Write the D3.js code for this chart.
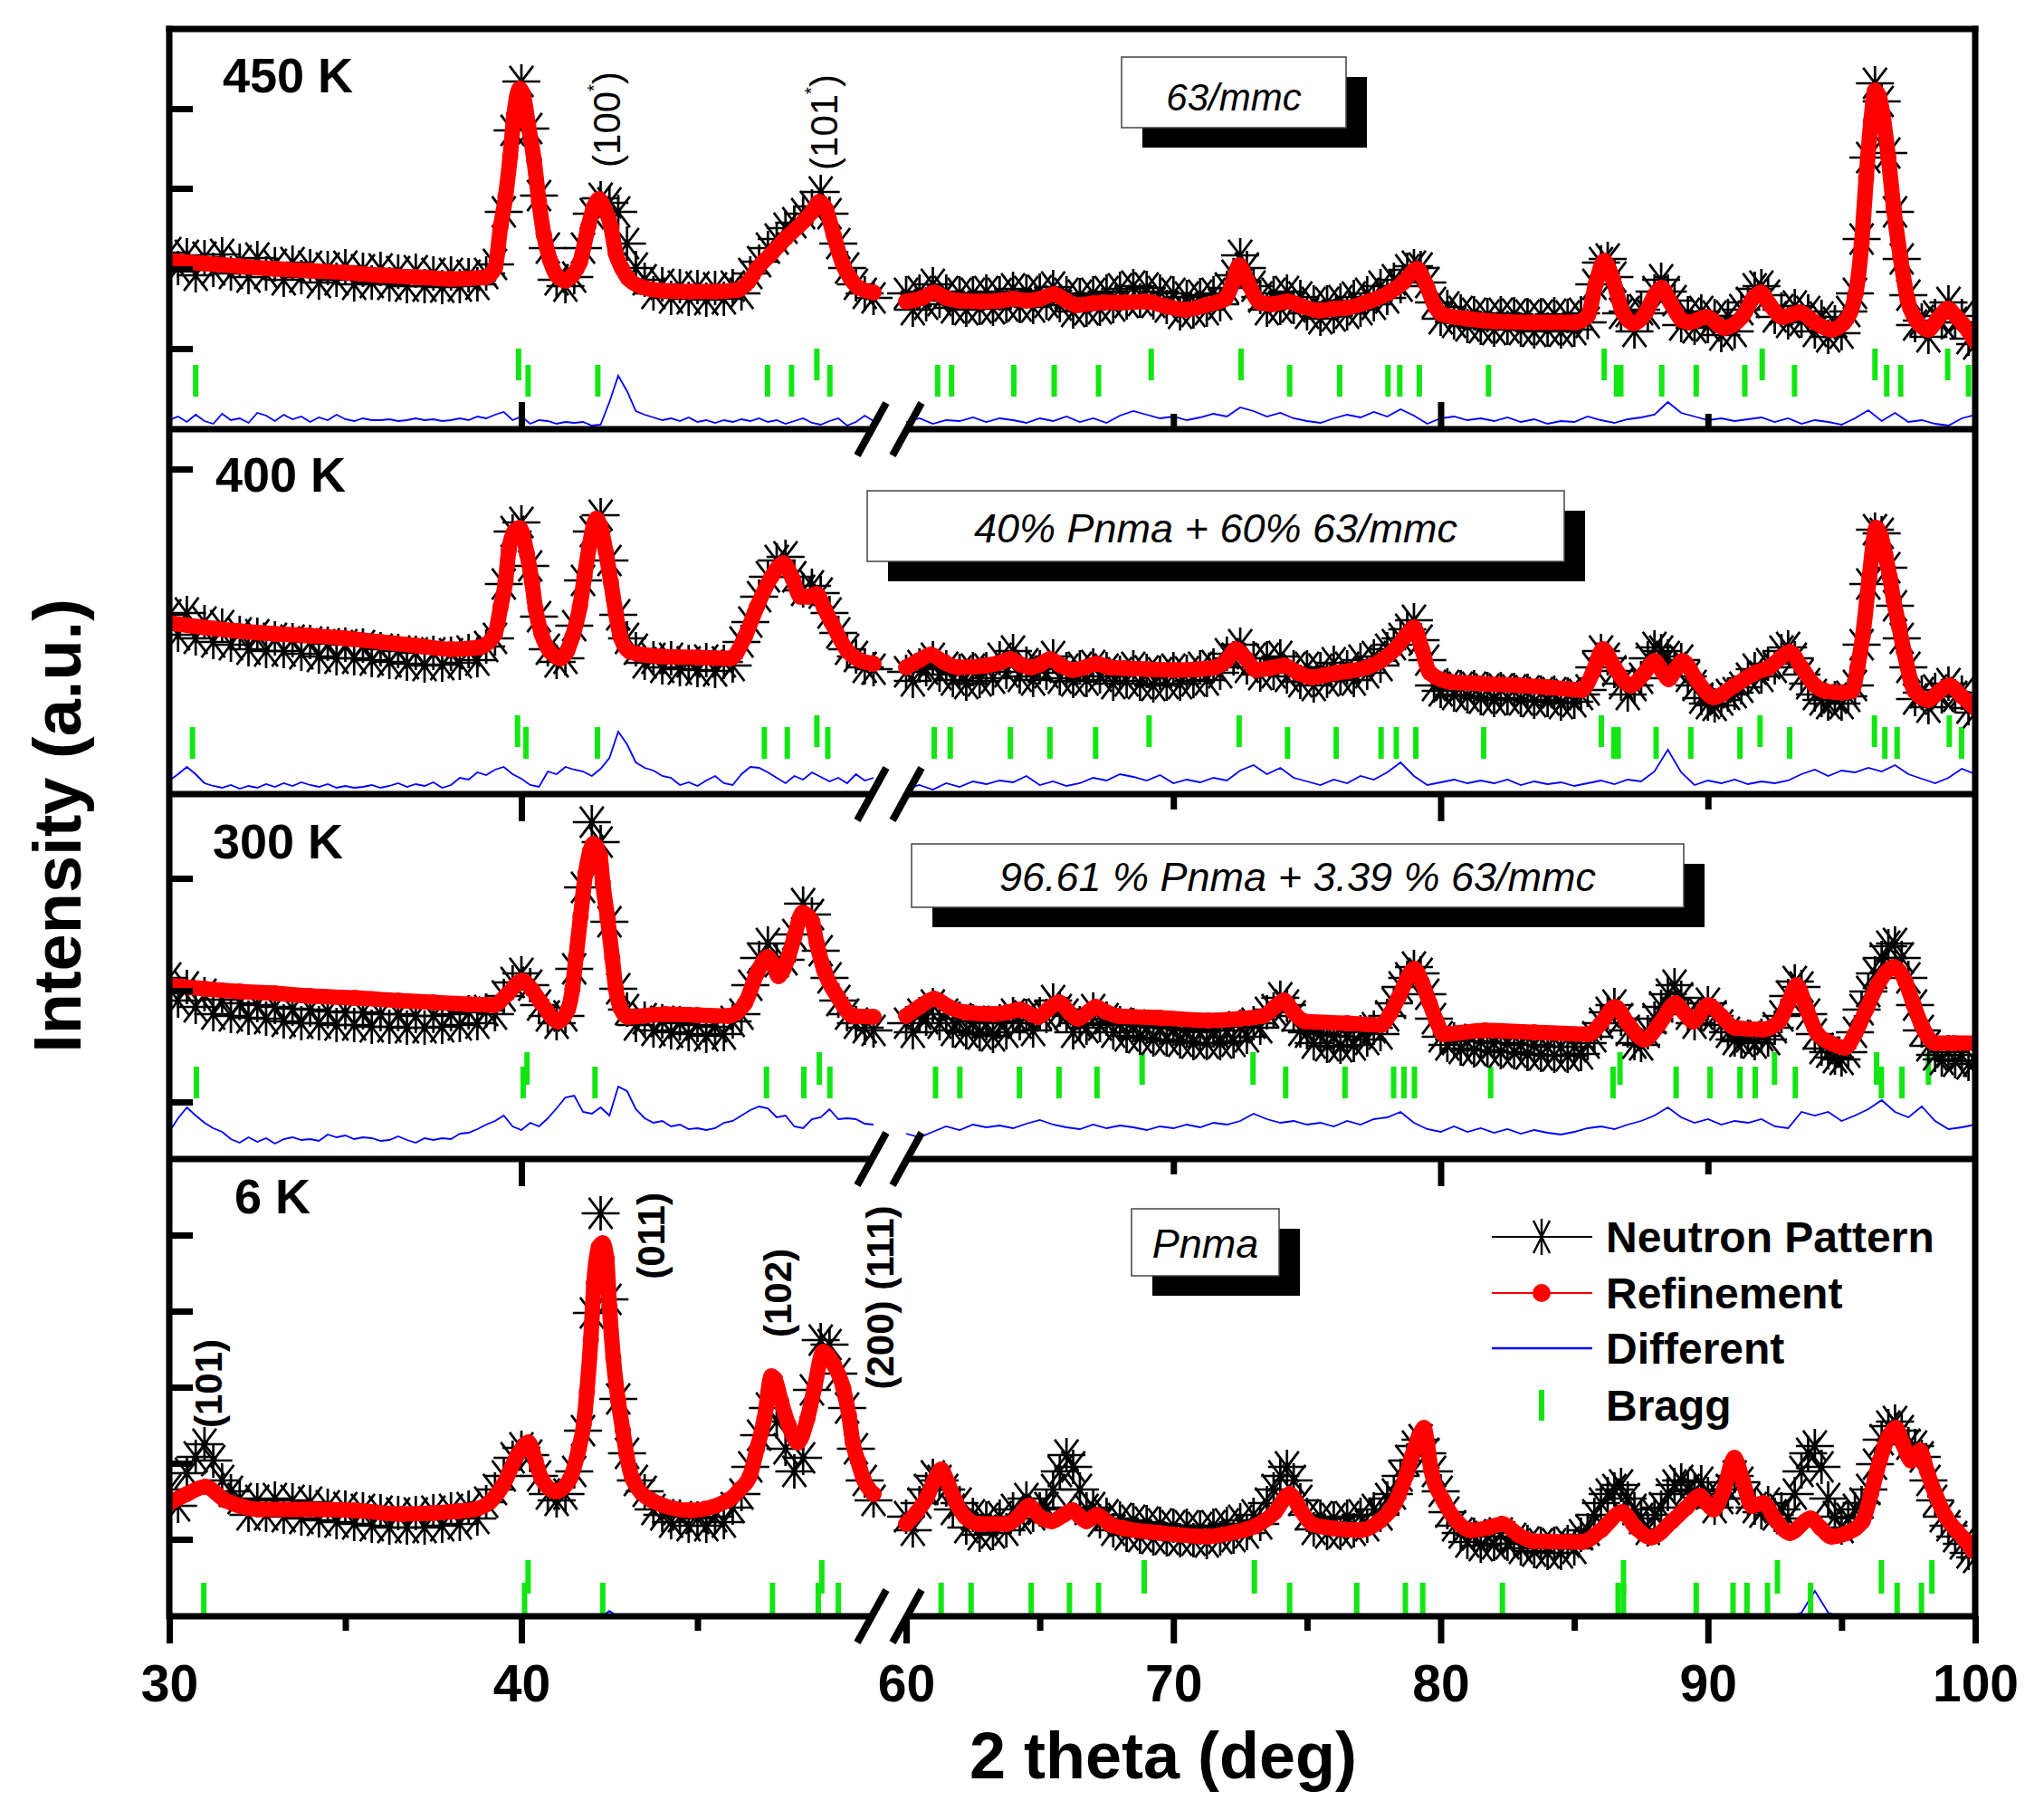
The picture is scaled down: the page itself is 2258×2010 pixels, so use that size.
<!DOCTYPE html>
<html><head><meta charset="utf-8">
<script src="https://cdn.jsdelivr.net/npm/d3@7"></script>
<style>body{margin:0;background:#fff}svg{display:block}</style>
</head><body><div id="chart"></div>
<script>
// ---------------- DATA ----------------
const panelNames = ["450 K", "400 K", "300 K", "6 K"];
const phaseLabels = ["63/mmc", "40% Pnma + 60% 63/mmc", "96.61 % Pnma + 3.39 % 63/mmc", "Pnma"];
const legendNames = ["Neutron Pattern", "Refinement", "Different", "Bragg"];
const xTickLabelsLeft = [30, 40];
const xTickLabelsRight = [60, 70, 80, 90, 100];
const xMinorLeft = [35, 45];
const xMinorRight = [65, 75, 85, 95];
const gridStartLeft = 30, gridStartRight = 60, obsStep = 0.25, diffStepLeft = 0.25, diffStepRight = 0.5;
const peakLabels450 = ["(100*)", "(101*)"];
const peakLabels6 = ["(101)", "(011)", "(102)", "(200) (111)"];

// y tick values (a.u.) for each panel
const yTicks450 = [89, 177, 266, 354];
const yTicks400 = [359];
const yTicks300 = [63, 186, 310];
const yTicks6 = [85, 169, 253, 337, 421];

// ---- 450 K ----
const calc450L = [[30,186],[31,183],[32,180],[33,177],[34,175],[35,173],[36,170],[37,168],[38,166],[39,168],[39.25,178],[39.41,224],[39.55,257],[39.68,301],[39.79,347],[39.95,376],[40.05,370],[40.19,337],[40.36,297],[40.5,251],[40.64,214],[40.81,187],[41.0,170],[41.25,164],[41.45,170],[41.66,184],[41.9,224],[42.05,245],[42.2,254],[42.37,243],[42.54,224],[42.68,194],[42.85,178],[43.02,167],[43.43,157],[44.0,153],[44.79,152],[45.5,152],[46.15,154],[46.45,163],[46.69,177],[47.1,194],[47.51,211],[48.05,231],[48.25,240],[48.46,251],[48.65,243],[48.87,214],[49.14,181],[49.35,166],[49.55,157],[50.0,151]];
const calc450R = [[60.0,141],[60.6,145],[61.05,151],[61.5,145],[61.96,142],[62.8,141],[63.52,142],[64.0,144],[64.5,142],[65.0,144],[65.54,149],[66.0,142],[66.37,137],[67.0,139],[67.4,140],[68.2,140],[68.96,141],[69.7,136],[70.46,132],[71.2,137],[71.94,144],[72.2,160],[72.46,181],[72.75,165],[73.23,140],[73.7,138],[74.27,141],[74.8,136],[75.44,131],[76.0,133],[76.48,134],[77.3,141],[78.03,150],[78.6,162],[79.12,177],[79.45,160],[79.8,135],[80.05,127],[81,122],[82.05,119],[83.5,118],[85.03,118],[85.5,125],[85.8,160],[86.12,186],[86.45,165],[86.8,130],[87.23,117],[87.7,130],[88.0,148],[88.27,156],[88.6,140],[89.0,121],[89.3,118],[89.95,124],[90.6,112],[91.3,125],[91.7,145],[91.98,151],[92.3,138],[92.8,124],[93.45,129],[94.0,118],[94.62,110],[95.1,118],[95.53,150],[95.75,205],[95.92,277],[96.1,340],[96.25,374],[96.4,368],[96.56,344],[96.75,300],[96.95,244],[97.2,190],[97.47,143],[97.8,120],[98.25,110],[98.6,122],[98.97,133],[99.3,124],[99.54,116],[100.0,97]];
const obs450L = [195,178,192,170,190,176,193,172,186,168,189,172,182,165,184,168,180,162,178,165,180,160,176,162,177,160,174,158,175,158,172,157,172,158,170,160,172,182,240,330,384,332,258,200,165,158,168,200,238,255,250,240,205,178,165,150,160,145,158,144,157,143,156,144,158,150,172,185,200,210,222,228,238,246,262,238,205,178,160,150,145];
const obs450R = [150,132,152,138,160,142,152,134,150,132,150,134,152,133,150,136,155,136,152,135,153,140,157,137,150,130,148,132,150,133,152,136,155,140,158,142,156,140,152,135,150,128,146,130,148,132,150,138,156,170,192,178,158,146,132,150,134,152,135,146,128,140,122,140,125,142,128,146,132,150,138,158,145,165,158,176,180,178,162,140,122,135,118,130,114,128,112,126,110,128,112,127,110,126,108,126,110,127,108,125,110,128,118,160,184,188,168,128,130,108,132,128,152,165,152,142,115,128,112,130,114,125,104,125,108,132,140,155,158,148,124,132,118,136,120,130,108,124,102,118,106,130,150,210,300,382,362,305,240,188,148,115,120,102,125,118,140,118,125,100,94];
const diff450L = [10,14,8,16,9,6,17,10,12,7,18,15,9,16,11,14,8,13,10,16,11,9,12,10,10,11,9,10,12,10,11,9,10,12,10,14,12,16,19,10,14,6,10,9,6,8,7,8,4,5,30,59,42,20,16,13,10,12,9,13,8,10,7,10,8,11,9,12,8,10,6,9,12,7,5,9,12,4,8,15,9];
const diff450R = [8,12,6,10,9,13,8,12,10,7,12,9,14,8,12,7,15,20,16,12,14,10,13,17,14,24,20,14,18,12,9,7,12,16,13,19,14,22,15,6,12,14,10,12,9,13,8,11,6,9,8,14,10,7,11,13,16,30,18,14,10,12,9,11,13,8,12,6,10,8,5,12,21,9,18,8,10,6,4,12,16];
const braggUp450L = [39.92, 48.39];
const braggUp450R = [69.17, 72.53, 86.12, 92.03, 96.25, 98.97];
const braggLo450L = [30.75, 40.19, 42.17, 46.99, 47.67, 48.76];
const braggLo450R = [61.18, 61.7, 64.03, 65.54, 67.2, 74.35, 76.22, 78.03, 78.47, 79.2, 81.79, 86.58, 86.74, 88.27, 89.56, 91.38, 93.24, 96.69, 97.21, 99.75];

// ---- 400 K ----
const calc400L = [[30.0,189],[31,184],[32,180],[33,177],[34,175],[35,172],[36,168],[37,164],[38,160],[38.8,162],[39.25,177],[39.41,207],[39.55,235],[39.64,269],[39.8,290],[39.95,294],[40.16,265],[40.3,234],[40.4,205],[40.57,177],[40.8,158],[41.11,150],[41.3,158],[41.45,174],[41.66,207],[41.79,240],[41.93,274],[42.13,304],[42.25,295],[42.4,267],[42.54,234],[42.68,200],[42.81,174],[43.09,157],[43.97,152],[45.0,151],[45.94,150],[46.35,174],[46.69,207],[47.1,240],[47.44,255],[47.7,238],[47.92,218],[48.15,218],[48.39,221],[48.6,205],[48.8,190],[49.28,157],[49.6,148],[50.0,144]];
const calc400R = [[60.0,140],[60.5,148],[60.92,154],[61.4,146],[61.96,140],[63.0,142],[63.5,145],[63.9,149],[64.3,143],[64.68,140],[65.0,143],[65.38,149],[65.8,142],[66.24,137],[66.7,140],[67.14,144],[67.6,140],[68.18,139],[69.0,138],[70.0,137],[71.0,138],[71.55,140],[72.0,148],[72.33,160],[72.7,150],[73.1,137],[73.6,139],[74.14,142],[74.6,135],[75.18,129],[75.6,131],[76.09,134],[76.6,136],[77.25,140],[77.8,148],[78.29,160],[78.7,175],[79.0,184],[79.3,160],[79.59,134],[80.36,124],[81.5,122],[82.96,120],[84.0,118],[85.29,115],[85.7,135],[86.07,160],[86.5,140],[87.1,120],[87.6,133],[88.01,147],[88.3,135],[88.53,127],[88.8,138],[89.05,147],[89.6,125],[90.21,107],[91.0,120],[91.77,134],[92.3,140],[92.7,150],[93.06,157],[93.5,140],[94.0,120],[94.36,114],[95.0,112],[95.4,114],[95.6,140],[95.79,174],[96.04,240],[96.3,294],[96.47,285],[96.64,264],[96.8,240],[96.95,214],[97.15,185],[97.34,157],[97.73,114],[98.25,104],[98.6,112],[99.03,120],[99.5,108],[100.0,95]];
const obs400L = [198,176,200,172,190,168,186,165,178,160,176,158,172,158,170,155,168,152,166,150,165,150,164,148,160,146,158,144,156,142,156,143,155,145,158,148,163,172,232,290,300,252,196,160,146,150,186,236,290,308,258,198,172,160,145,150,140,150,138,146,137,148,136,146,142,168,190,218,240,258,262,240,225,230,222,200,178,160,152,140,138];
const obs400R = [135,125,142,138,150,132,140,126,136,122,138,125,138,128,150,135,158,130,144,126,140,134,152,128,138,125,140,126,142,130,138,122,134,125,140,122,136,120,134,122,138,122,135,125,140,126,142,134,155,150,165,140,150,132,150,134,152,130,140,124,140,120,138,125,145,128,140,126,148,134,152,142,160,165,172,182,192,170,148,120,114,120,110,118,108,118,106,116,104,116,106,115,104,114,102,112,104,112,100,110,102,110,115,140,158,150,136,122,110,120,128,150,162,158,152,140,148,130,120,106,100,98,104,110,112,118,128,138,130,144,140,158,162,150,132,122,110,104,100,106,100,108,120,165,232,292,288,250,208,172,140,105,112,96,115,108,122,108,112,95,90];
const diff400L = [15,22,30,22,12,9,7,10,6,9,7,11,8,12,9,13,10,8,11,7,9,7,8,10,7,9,12,8,11,9,13,7,10,18,16,24,21,27,30,22,17,10,8,25,22,30,27,25,20,28,40,69,55,35,29,26,20,18,10,13,9,15,20,12,10,22,30,29,24,18,12,20,16,24,19,14,18,12,22,15,18];
const diff400R = [6,10,5,12,8,14,11,15,13,20,10,14,9,12,18,15,22,19,15,21,12,16,13,18,15,26,32,22,29,18,14,10,16,12,20,16,24,35,20,10,13,16,12,15,12,16,10,14,11,13,9,12,15,11,16,14,25,49,24,10,15,12,16,11,14,12,15,22,27,20,26,24,29,25,32,22,17,12,18,28,22];
const braggUp400L = [39.89, 48.39];
const braggUp400R = [69.09, 72.46, 86.01, 91.95, 96.23, 99.03];
const braggLo400L = [30.66, 40.13, 42.16, 46.9, 47.55, 48.7];
const braggLo400R = [61.05, 61.65, 63.9, 65.38, 67.09, 74.27, 76.09, 77.77, 78.34, 79.07, 81.61, 86.48, 86.64, 88.06, 89.36, 91.2, 93.06, 96.62, 97.08, 99.49];

// ---- 300 K ----
const calc300L = [[30.0,192],[31,188],[32,185],[33,183],[34,180],[35.26,178],[36.5,175],[37.5,173],[38.5,171],[39.21,170],[39.6,182],[40.02,197],[40.3,187],[40.57,172],[41.04,152],[41.32,165],[41.45,188],[41.55,223],[41.68,268],[41.82,315],[41.95,340],[42.04,348],[42.23,335],[42.31,305],[42.45,265],[42.58,222],[42.68,188],[42.81,167],[43.02,157],[44.11,160],[45.0,159],[45.87,158],[46.35,172],[46.69,205],[46.99,223],[47.15,215],[47.3,202],[47.45,210],[47.58,223],[47.75,245],[47.98,272],[48.15,268],[48.26,262],[48.39,238],[48.6,208],[49.0,178],[49.41,158],[50.0,157]];
const calc300R = [[60.0,158],[60.5,168],[61.05,177],[61.6,168],[62.22,162],[63.26,160],[63.8,162],[64.24,165],[64.94,157],[65.3,165],[65.72,173],[66.1,162],[66.42,155],[66.8,162],[67.09,168],[67.5,162],[67.92,158],[69.5,156],[71.29,153],[72.5,155],[73.36,158],[73.8,168],[74.14,175],[74.5,162],[74.92,152],[76.5,150],[77.77,148],[78.1,160],[78.42,178],[79.02,210],[79.3,195],[79.59,172],[79.85,152],[80.1,138],[81.66,142],[83.5,140],[85.55,138],[86.0,150],[86.53,168],[87.0,150],[87.62,132],[88.2,150],[88.79,172],[89.1,162],[89.44,152],[90.01,170],[90.5,158],[91.0,145],[92.03,143],[92.67,152],[93.0,172],[93.32,192],[93.7,165],[94.1,138],[94.6,128],[95.14,123],[95.5,138],[95.92,165],[96.4,195],[96.95,212],[97.4,195],[97.7,170],[97.99,148],[98.51,128],[99.2,128],[100.0,128]];
const obs300L = [200,175,190,168,182,160,176,158,172,156,170,155,168,152,166,150,165,150,163,148,162,148,162,146,160,146,160,145,158,145,158,146,160,148,162,150,164,160,180,195,205,192,170,158,150,158,210,300,372,350,262,188,165,148,155,142,152,140,150,138,148,136,146,138,152,160,192,222,238,218,220,248,282,270,230,200,175,160,150,145,142];
const obs300R = [150,140,160,155,170,150,160,142,155,140,152,138,150,136,152,140,160,150,158,142,160,158,175,165,160,140,150,145,165,148,155,140,150,136,148,134,146,132,145,132,144,130,142,128,140,128,142,128,142,130,146,135,150,145,162,165,178,170,158,142,140,128,138,125,136,124,135,126,140,132,145,138,158,172,190,200,212,205,182,155,135,126,132,122,130,120,130,120,128,118,128,118,126,116,126,115,124,114,124,114,124,116,128,135,150,162,170,155,142,128,126,140,155,168,182,192,178,160,150,160,172,158,148,140,132,130,135,128,136,132,145,158,180,196,190,160,138,122,118,112,110,118,140,165,185,205,222,235,238,222,200,170,142,125,115,110,118,108,115,105,108];
const diff300L = [30,45,57,48,40,34,30,22,18,24,19,23,17,22,24,21,22,20,27,24,26,22,24,23,20,21,25,21,18,23,21,23,22,28,29,33,38,42,48,36,32,40,36,45,56,68,70,52,50,57,48,80,75,55,45,40,42,36,38,33,34,32,34,40,42,48,54,58,56,46,48,36,34,44,46,55,44,45,44,39,38];
const diff300R = [28,24,30,36,32,38,35,37,34,39,43,38,35,33,38,34,37,35,32,36,34,38,35,40,38,42,50,44,40,42,38,40,36,42,38,44,46,52,40,33,30,36,30,34,29,33,28,32,29,27,30,34,36,33,38,42,48,57,46,40,44,38,42,40,44,36,34,52,48,52,42,48,55,65,52,46,58,42,33,35,38];
const braggUp300L = [40.16, 48.46];
const braggUp300R = [68.83, 72.98, 86.71, 92.49, 96.31, 98.25];
const braggLo300L = [30.77, 40.05, 42.09, 46.96, 48.02, 48.76];
const braggLo300R = [61.1, 62.01, 64.24, 65.72, 67.14, 74.2, 76.42, 78.24, 78.63, 79.02, 81.87, 86.45, 88.81, 90.08, 91.2, 91.77, 93.27, 96.49, 97.26];

// ---- 6 K ----
const calc6L = [[30.0,125],[30.5,135],[31.02,143],[31.59,128],[32.0,122],[32.54,118],[34.0,118],[35.26,117],[36.62,113],[37.5,114],[38.2,116],[38.66,118],[39.1,126],[39.48,145],[39.89,178],[40.2,192],[40.4,172],[40.57,152],[40.98,138],[41.38,152],[41.63,185],[41.77,212],[41.86,248],[41.97,305],[42.06,368],[42.2,408],[42.31,412],[42.42,395],[42.5,342],[42.61,285],[42.75,238],[42.88,205],[42.99,178],[43.15,152],[43.7,128],[44.79,117],[45.87,128],[46.2,140],[46.49,155],[46.69,185],[46.9,218],[47.1,265],[47.2,262],[47.37,238],[47.58,212],[47.85,192],[48.12,218],[48.32,252],[48.57,292],[48.87,278],[49.14,252],[49.3,222],[49.41,192],[49.55,172],[49.71,152],[50.0,135]];
const calc6R = [[60.0,102],[60.4,115],[60.79,132],[61.05,150],[61.31,162],[61.55,148],[61.83,128],[62.2,110],[62.74,102],[63.77,102],[64.2,110],[64.6,122],[65.0,110],[65.46,105],[65.9,112],[66.24,117],[66.5,110],[66.75,105],[67.14,112],[67.6,102],[68.18,97],[69.5,92],[71.29,88],[72.3,93],[73.1,100],[73.8,115],[74.35,135],[74.75,118],[75.18,102],[76.0,97],[76.99,95],[77.7,105],[78.29,125],[78.7,155],[78.94,178],[79.2,200],[79.38,208],[79.5,190],[79.64,162],[80.1,128],[80.6,105],[81.14,95],[81.8,98],[82.31,102],[82.9,90],[83.47,83],[85.29,82],[86.0,95],[86.79,115],[87.3,98],[87.88,87],[88.66,105],[89.2,120],[89.7,133],[89.95,125],[90.21,118],[90.6,140],[90.99,175],[91.3,150],[91.64,122],[92.08,125],[92.5,108],[93.06,92],[93.84,108],[94.2,98],[94.62,88],[95.2,92],[95.79,105],[96.1,135],[96.43,172],[96.75,198],[97.03,208],[97.3,190],[97.6,172],[97.94,183],[98.2,160],[98.51,135],[98.9,110],[99.29,95],[99.6,85],[99.93,72]];
const obs6L = [140,122,158,176,190,172,150,138,130,112,128,112,130,110,128,108,126,106,122,104,120,102,118,100,116,98,114,98,114,98,116,100,118,102,120,108,126,140,155,175,186,178,155,135,128,135,160,205,335,445,350,240,180,150,138,118,112,104,110,100,108,100,110,104,120,135,165,200,230,215,185,160,175,250,305,300,268,230,185,150,128];
const obs6R = [110,95,125,140,155,150,140,118,125,98,112,90,108,92,110,95,118,108,130,112,118,120,140,160,178,165,140,118,120,105,112,95,108,90,106,88,104,86,102,85,100,84,100,84,98,82,100,86,102,88,106,92,112,102,125,140,155,165,150,128,112,96,110,92,108,92,110,95,112,100,118,112,130,135,155,172,188,195,180,160,138,115,100,92,82,90,78,88,80,92,80,86,75,82,72,80,70,80,70,82,75,90,95,112,125,135,140,145,130,118,108,96,112,120,135,145,150,140,138,148,135,120,130,140,155,148,130,120,115,125,112,118,108,135,160,180,188,165,130,110,98,108,118,125,140,168,195,210,215,205,190,188,176,150,128,110,100,88,80,70,65];
const diff6L = [-2,-1,-3,-2,-1,-2,-3,-1,-2,-1,-2,-3,-2,-1,-2,-1,-3,-2,-1,-2,-2,-3,-1,-2,-1,-2,-3,-2,-1,-2,-1,-3,-2,-1,-2,-2,-1,-3,-2,-1,-2,-2,-1,-3,-2,-1,-2,-2,-1,-1,6,-1,-2,-3,-2,-1,-2,-2,-3,-1,-2,-2,-1,-2,-3,-1,-2,-2,-1,-2,-3,-1,-2,-2,-1,-2,-1,-3,-2,-1,-2];
const diff6R = [-2,-1,-3,-2,-1,-2,-2,-1,-3,-2,-1,-2,-2,-1,-3,-2,-2,-1,-2,-3,-1,-2,-2,-1,-2,-3,-1,-2,-2,-1,-3,-2,-1,-2,-2,-1,-3,-2,-1,-2,-2,-1,-2,-3,-1,-2,-2,-1,-3,-2,-1,-2,-2,-1,-3,-2,-1,-2,-2,-1,-2,-3,-1,-2,-1,-2,-2,4,28,4,-1,-2,-2,-1,-3,-2,-1,-2,-2,-1,-2];
const braggUp6L = [40.19, 48.53];
const braggUp6R = [68.91, 73.03, 86.84, 92.6, 96.49, 98.38];
const braggLo6L = [30.98, 40.09, 42.31, 47.13, 48.43, 49.0];
const braggLo6R = [61.31, 62.43, 64.68, 66.11, 67.2, 74.35, 76.86, 78.68, 79.33, 82.31, 86.64, 86.84, 89.56, 90.94, 91.46, 92.23, 93.84, 97.08, 97.99];

// ---------------- LAYOUT ----------------
const W = 2258, H = 2010;
const FONT = "'Liberation Sans', Arial, Helvetica, sans-serif";
const plotLeft = 187, plotRight = 2182;
const panelBox = [{top:32,bottom:474},{top:474,bottom:877},{top:877,bottom:1280},{top:1280,bottom:1785}];
const braggRows = [{up:[54,89],lo:[36,71]},{up:[52,87],lo:[39,74]},{up:[82,118],lo:[67,102]},{up:[25,62],lo:[2,37]}];
const AX = 7; // axis line thickness
const RED = "#ff0000", BLUE = "#0000ff", GREEN = "#12e612";

const xL = d3.scaleLinear().domain([30, 50]).range([187, 965]);
const xR = d3.scaleLinear().domain([60, 100]).range([1001, 2182]);

const panels = [
  {calcL:calc450L,calcR:calc450R,obsL:obs450L,obsR:obs450R,diffL:diff450L,diffR:diff450R,upL:braggUp450L,upR:braggUp450R,loL:braggLo450L,loR:braggLo450R,yTicks:yTicks450},
  {calcL:calc400L,calcR:calc400R,obsL:obs400L,obsR:obs400R,diffL:diff400L,diffR:diff400R,upL:braggUp400L,upR:braggUp400R,loL:braggLo400L,loR:braggLo400R,yTicks:yTicks400},
  {calcL:calc300L,calcR:calc300R,obsL:obs300L,obsR:obs300R,diffL:diff300L,diffR:diff300R,upL:braggUp300L,upR:braggUp300R,loL:braggLo300L,loR:braggLo300R,yTicks:yTicks300},
  {calcL:calc6L,calcR:calc6R,obsL:obs6L,obsR:obs6R,diffL:diff6L,diffR:diff6R,upL:braggUp6L,upR:braggUp6R,loL:braggLo6L,loR:braggLo6R,yTicks:yTicks6}
];

const svg = d3.select("#chart").append("svg").attr("width", W).attr("height", H)
  .attr("viewBox", `0 0 ${W} ${H}`).style("font-family", FONT);
svg.append("rect").attr("width", W).attr("height", H).attr("fill", "#fff");
const defs = svg.append("defs");

// data marker: 8-armed asterisk (horizontal, vertical and two diagonals)
function asterData(rx, ry){const a=rx*0.62,b=ry*0.9;return `M${-rx},0L${rx},0M0,${-ry}L0,${ry}M${-a},${-b}L${a},${b}M${-a},${b}L${a},${-b}`;}
function asterLegend(r){const a=r*0.45,b=r*0.9;return `M0,${-r}L0,${r}M${-a},${-b}L${a},${b}M${-a},${b}L${a},${-b}`;}

const yScales = [];
panels.forEach((p, i) => {
  const box = panelBox[i];
  const y = d3.scaleLinear().domain([0, box.bottom - box.top]).range([box.bottom, box.top]);
  yScales.push(y);
  const clipId = "clip" + i;
  defs.append("clipPath").attr("id", clipId).append("rect")
    .attr("x", plotLeft).attr("y", box.top).attr("width", plotRight - plotLeft).attr("height", box.bottom - box.top);
  const g = svg.append("g").attr("clip-path", `url(#${clipId})`);
  const segs = [
    {xs:xL,start:gridStartLeft,calc:p.calcL,obs:p.obsL,diff:p.diffL,dstep:diffStepLeft,up:p.upL,lo:p.loL},
    {xs:xR,start:gridStartRight,calc:p.calcR,obs:p.obsR,diff:p.diffR,dstep:diffStepRight,up:p.upR,lo:p.loR}
  ];
  const rows = braggRows[i];
  segs.forEach(s => {
    // difference curve
    g.append("path").datum(s.diff.map((v, k) => [s.start + k * s.dstep, v]))
      .attr("d", d3.line().x(d => s.xs(d[0])).y(d => y(d[1])))
      .attr("fill", "none").attr("stroke", BLUE).attr("stroke-width", 1.8);
    // Bragg positions
    g.selectAll(null).data(s.lo).join("line")
      .attr("x1", d => s.xs(d)).attr("x2", d => s.xs(d))
      .attr("y1", y(rows.lo[0])).attr("y2", y(rows.lo[1]))
      .attr("stroke", GREEN).attr("stroke-width", 6);
    g.selectAll(null).data(s.up).join("line")
      .attr("x1", d => s.xs(d)).attr("x2", d => s.xs(d))
      .attr("y1", y(rows.up[0])).attr("y2", y(rows.up[1]))
      .attr("stroke", GREEN).attr("stroke-width", 6);
    // observed neutron pattern
    g.selectAll(null).data(s.obs.map((v, k) => [s.start + k * obsStep, v])).join("path")
      .attr("d", asterData(21, 19))
      .attr("transform", d => `translate(${s.xs(d[0])},${y(d[1])})`)
      .attr("fill", "none").attr("stroke", "#000").attr("stroke-width", 2.7);
    // refinement
    g.append("path").datum(s.calc)
      .attr("d", d3.line().x(d => s.xs(d[0])).y(d => y(d[1])).curve(d3.curveMonotoneX))
      .attr("fill", "none").attr("stroke", RED).attr("stroke-width", 17).attr("stroke-linejoin", "round");
    g.selectAll(null).data(s.calc).join("circle")
      .attr("cx", d => s.xs(d[0])).attr("cy", d => y(d[1])).attr("r", 9).attr("fill", RED);
  });
});

// ---------------- FRAME ----------------
const frame = svg.append("g").attr("stroke", "#000").attr("stroke-width", AX).attr("stroke-linecap", "square");
frame.append("line").attr("x1", plotLeft).attr("x2", plotLeft).attr("y1", 32).attr("y2", 1785);
frame.append("line").attr("x1", plotRight).attr("x2", plotRight).attr("y1", 32).attr("y2", 1785);
frame.append("line").attr("x1", plotLeft).attr("x2", plotRight).attr("y1", 32).attr("y2", 32);
panelBox.forEach(b => {
  frame.append("line").attr("x1", plotLeft).attr("x2", xL(50)).attr("y1", b.bottom).attr("y2", b.bottom).attr("stroke-linecap", "butt");
  frame.append("line").attr("x1", xR(60)).attr("x2", plotRight).attr("y1", b.bottom).attr("y2", b.bottom).attr("stroke-linecap", "butt");
});

function styleAxis(sel) {
  sel.select(".domain").remove();
  sel.selectAll(".tick line").attr("stroke", "#000").attr("stroke-width", AX);
}
// left y-axis ticks (inside)
panels.forEach((p, i) => {
  svg.append("g").attr("transform", `translate(${plotLeft},0)`)
    .call(d3.axisLeft(yScales[i]).tickValues(p.yTicks).tickSize(-26).tickFormat(""))
    .call(styleAxis);
});
// bottom x-axis
const bottomY = panelBox[3].bottom;
function tickLabels(sel) {
  sel.selectAll(".tick text").attr("font-size", 57).attr("font-weight", "bold").attr("fill", "#000").attr("font-family", FONT);
}
svg.append("g").attr("transform", `translate(0,${bottomY})`)
  .call(d3.axisBottom(xL).tickValues(xTickLabelsLeft).tickSize(30).tickPadding(24).tickFormat(d3.format("d")))
  .call(styleAxis).call(tickLabels);
svg.append("g").attr("transform", `translate(0,${bottomY})`)
  .call(d3.axisBottom(xR).tickValues(xTickLabelsRight).tickSize(30).tickPadding(24).tickFormat(d3.format("d")))
  .call(styleAxis).call(tickLabels);
svg.append("g").attr("transform", `translate(0,${bottomY})`)
  .call(d3.axisBottom(xL).tickValues(xMinorLeft).tickSize(16).tickFormat(""))
  .call(styleAxis);
svg.append("g").attr("transform", `translate(0,${bottomY})`)
  .call(d3.axisBottom(xR).tickValues(xMinorRight).tickSize(16).tickFormat(""))
  .call(styleAxis);
// internal divider ticks
[{y:474,dir:-1},{y:877,dir:1},{y:1280,dir:1}].forEach(d => {
  svg.append("g").attr("transform", `translate(0,${d.y})`)
    .call(d3.axisBottom(xL).tickValues([40]).tickSize(30 * d.dir).tickFormat("")).call(styleAxis);
  svg.append("g").attr("transform", `translate(0,${d.y})`)
    .call(d3.axisBottom(xR).tickValues([80]).tickSize(30 * d.dir).tickFormat("")).call(styleAxis);
  svg.append("g").attr("transform", `translate(0,${d.y})`)
    .call(d3.axisBottom(xR).tickValues([70, 90]).tickSize(17 * d.dir).tickFormat("")).call(styleAxis);
});
// axis breaks
panelBox.forEach(b => {
  const yb = b.bottom;
  svg.append("rect").attr("x", xL(50) + 1).attr("y", yb - 5).attr("width", xR(60) - xL(50) - 2).attr("height", 10).attr("fill", "#fff");
  [947, 986].forEach(x0 => {
    svg.append("line").attr("x1", x0).attr("y1", yb + 29).attr("x2", x0 + 32).attr("y2", yb - 29)
      .attr("stroke", "#000").attr("stroke-width", 8);
  });
});

// ---------------- TEXT ----------------
svg.append("text").attr("x", 1285).attr("y", 1964).attr("text-anchor", "middle")
  .attr("font-size", 72).attr("font-weight", "bold").text("2 theta (deg)");
svg.append("text").attr("transform", "translate(89,912) rotate(-90)").attr("text-anchor", "middle")
  .attr("font-size", 74).attr("font-weight", "bold").text("Intensity (a.u.)");

const labelPos = [{x:246,y:102},{x:238,y:543},{x:235,y:948},{x:259,y:1340}];
panelNames.forEach((n, i) => {
  svg.append("text").attr("x", labelPos[i].x).attr("y", labelPos[i].y)
    .attr("font-size", 54).attr("font-weight", "bold").text(n);
});

// peak labels (rotated)
function peakLabel(xs, y, xv, hv, txt, bold) {
  const t = svg.append("text").attr("transform", `translate(${xs(xv)},${y(hv)}) rotate(-90)`)
    .attr("text-anchor", "middle").attr("dominant-baseline", "central")
    .attr("font-size", 42).attr("font-weight", bold ? "bold" : "normal");
  const parts = txt.split("*");
  if (parts.length > 1) {
    t.append("tspan").text(parts[0]);
    t.append("tspan").attr("font-size", 20).attr("dy", -14).text("*");
    t.append("tspan").attr("dy", 14).text(parts[1]);
  } else t.text(txt);
}
peakLabel(xL, yScales[0], 42.42, 342, peakLabels450[0], false);
peakLabel(xL, yScales[0], 48.59, 339, peakLabels450[1], false);
peakLabel(xL, yScales[3], 31.13, 257, peakLabels6[0], true);
peakLabel(xL, yScales[3], 43.70, 420, peakLabels6[1], true);
peakLabel(xL, yScales[3], 47.30, 357, peakLabels6[2], true);
peakLabel(xL, yScales[3], 50.20, 352, peakLabels6[3], true);

// phase boxes
const boxes = [
  {x:1239,y:63,w:248,h:78,fs:42,ty:122},
  {x:958,y:542,w:770,h:78,fs:45,ty:599},
  {x:1007,y:932,w:853,h:70,fs:45,ty:984},
  {x:1250,y:1335,w:163,h:74,fs:45,ty:1389}
];
phaseLabels.forEach((t, i) => {
  const b = boxes[i];
  svg.append("rect").attr("x", b.x + 23).attr("y", b.y + 22).attr("width", b.w).attr("height", b.h).attr("fill", "#000");
  svg.append("rect").attr("x", b.x).attr("y", b.y).attr("width", b.w).attr("height", b.h)
    .attr("fill", "#fff").attr("stroke", "#444").attr("stroke-width", 1.5);
  svg.append("text").attr("x", b.x + b.w / 2).attr("y", b.ty).attr("text-anchor", "middle")
    .attr("font-size", b.fs).attr("font-style", "italic").text(t);
});

// legend
const lg = svg.append("g");
const rowsY = [1366, 1428, 1489, 1552];
const lx1 = 1648, lx2 = 1759, lxc = 1703;
lg.append("line").attr("x1", lx1).attr("x2", lx2).attr("y1", rowsY[0]).attr("y2", rowsY[0]).attr("stroke", "#000").attr("stroke-width", 2);
lg.append("path").attr("d", asterLegend(20)).attr("transform", `translate(${lxc},${rowsY[0]})`).attr("fill", "none").attr("stroke", "#000").attr("stroke-width", 2.4);
lg.append("line").attr("x1", lx1).attr("x2", lx2).attr("y1", rowsY[1]).attr("y2", rowsY[1]).attr("stroke", RED).attr("stroke-width", 2);
lg.append("circle").attr("cx", lxc).attr("cy", rowsY[1]).attr("r", 10).attr("fill", RED);
lg.append("line").attr("x1", lx1).attr("x2", lx2).attr("y1", rowsY[2]).attr("y2", rowsY[2]).attr("stroke", BLUE).attr("stroke-width", 2.5);
lg.append("line").attr("x1", lxc).attr("x2", lxc).attr("y1", rowsY[3] - 17).attr("y2", rowsY[3] + 17).attr("stroke", GREEN).attr("stroke-width", 6);
legendNames.forEach((n, i) => {
  lg.append("text").attr("x", 1774).attr("y", rowsY[i] + 17).attr("font-size", 48).attr("font-weight", "bold").text(n);
});
</script>
</body></html>
